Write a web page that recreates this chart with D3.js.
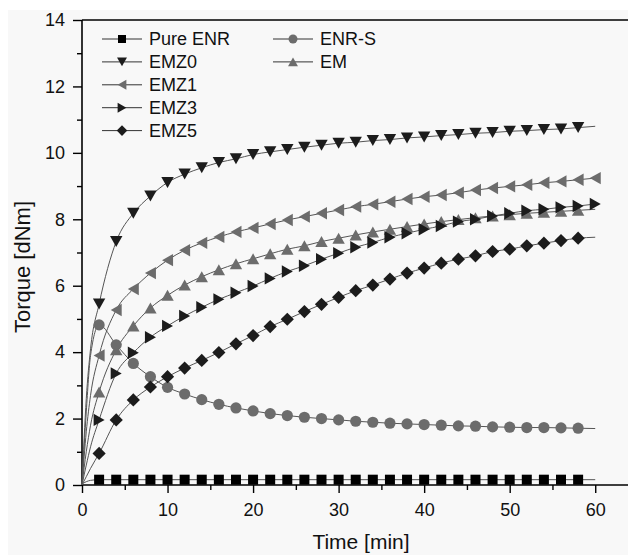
<!DOCTYPE html>
<html>
<head>
<meta charset="utf-8">
<script src="https://cdn.jsdelivr.net/npm/d3@7"></script>
<style>
  html, body { margin: 0; padding: 0; background: #fff; }
  svg { display: block; font-family: "Liberation Sans", Arial, sans-serif; }
</style>
</head>
<body>
<svg id="chart" width="628" height="555"></svg>
<script>
// --- Data (torque vs time, markers every 2 min) ---
const time = [2, 4, 6, 8, 10, 12, 14, 16, 18, 20, 22, 24, 26, 28, 30,
              32, 34, 36, 38, 40, 42, 44, 46, 48, 50, 52, 54, 56, 58, 60];

// start of the fitted curves (before the first marker)
const earlyTime = [0, 0.5, 1];

const pureENR = [0.16, 0.16, 0.16, 0.16, 0.16, 0.16, 0.16, 0.16, 0.16, 0.16, 0.16, 0.16, 0.16, 0.16, 0.16,
                 0.16, 0.16, 0.16, 0.16, 0.16, 0.16, 0.16, 0.16, 0.16, 0.16, 0.16, 0.16, 0.16, 0.16, 0.16];
const enrS = [4.82, 4.22, 3.66, 3.26, 2.94, 2.74, 2.57, 2.43, 2.32, 2.23, 2.15, 2.09, 2.04, 2.00, 1.96,
              1.92, 1.89, 1.86, 1.84, 1.82, 1.80, 1.78, 1.77, 1.75, 1.74, 1.73, 1.73, 1.72, 1.71, 1.70];
const emz0 = [5.45, 7.33, 8.18, 8.70, 9.11, 9.36, 9.55, 9.71, 9.82, 9.95, 10.03, 10.10, 10.17, 10.23, 10.29,
              10.32, 10.37, 10.40, 10.45, 10.48, 10.52, 10.55, 10.59, 10.61, 10.65, 10.67, 10.70, 10.72, 10.76, 10.80];
const em = [2.80, 4.07, 4.79, 5.33, 5.71, 6.02, 6.27, 6.48, 6.66, 6.81, 6.96, 7.10, 7.20, 7.33, 7.43,
            7.53, 7.62, 7.70, 7.78, 7.86, 7.93, 7.99, 8.05, 8.10, 8.14, 8.18, 8.21, 8.24, 8.27, 8.30];
const emz1 = [3.90, 5.27, 5.90, 6.38, 6.77, 7.07, 7.29, 7.47, 7.62, 7.74, 7.86, 7.98, 8.08, 8.18, 8.28,
              8.38, 8.45, 8.53, 8.61, 8.68, 8.73, 8.80, 8.88, 8.94, 8.99, 9.04, 9.10, 9.14, 9.19, 9.24];
const emz3 = [1.96, 3.36, 3.98, 4.45, 4.79, 5.09, 5.35, 5.59, 5.79, 5.99, 6.22, 6.43, 6.60, 6.80, 6.98,
              7.16, 7.30, 7.46, 7.58, 7.70, 7.80, 7.93, 8.00, 8.10, 8.18, 8.26, 8.30, 8.36, 8.40, 8.46];
const emz5 = [0.95, 1.96, 2.56, 2.95, 3.26, 3.52, 3.75, 3.99, 4.25, 4.50, 4.77, 4.99, 5.22, 5.44, 5.65,
              5.85, 6.02, 6.20, 6.38, 6.53, 6.68, 6.80, 6.90, 7.03, 7.10, 7.20, 7.28, 7.36, 7.43, 7.46];

const early = {
  "Pure ENR": [0.03, 0.10, 0.14],
  "ENR-S": [0.0, 2.2, 3.9],
  "EMZ0": [0.0, 2.6, 4.1],
  "EM": [0.0, 1.0, 1.8],
  "EMZ1": [0.0, 1.6, 2.7],
  "EMZ3": [0.0, 0.6, 1.15],
  "EMZ5": [0.0, 0.25, 0.5]
};

const xTicks = [0, 10, 20, 30, 40, 50, 60];
const yTicks = [0, 2, 4, 6, 8, 10, 12, 14];

const BLACK = "#1c1c1c", GREY = "#6c6c6c";

// name, values, marker, colour, last time with a marker
const series = [
  { name: "Pure ENR", values: pureENR, shape: "square", color: "#000", lastMark: 58 },
  { name: "ENR-S", values: enrS, shape: "circle", color: GREY, lastMark: 58 },
  { name: "EMZ0", values: emz0, shape: "down", color: BLACK, lastMark: 58 },
  { name: "EM", values: em, shape: "up", color: GREY, lastMark: 58 },
  { name: "EMZ1", values: emz1, shape: "left", color: GREY, lastMark: 60 },
  { name: "EMZ3", values: emz3, shape: "right", color: BLACK, lastMark: 60 },
  { name: "EMZ5", values: emz5, shape: "diamond", color: BLACK, lastMark: 58 }
];

// --- marker paths, centred on the bounding box ---
function markerPath(shape, k) {
  const s = k || 1;
  switch (shape) {
    case "square": { const h = 5 * s; return `M${-h},${-h}H${h}V${h}H${-h}Z`; }
    case "circle": { const r = 5.6 * s; return `M${r},0A${r},${r} 0 1,1 ${-r},0A${r},${r} 0 1,1 ${r},0Z`; }
    case "down": { const w = 6.2 * s, h = 5.5 * s; return `M${-w},${-h}H${w}L0,${h}Z`; }
    case "up": { const w = 6.2 * s, h = 5.5 * s; return `M${-w},${h}H${w}L0,${-h}Z`; }
    case "left": { const w = 5.5 * s, h = 6.2 * s; return `M${w},${-h}V${h}L${-w},0Z`; }
    case "right": { const w = 5.5 * s, h = 6.2 * s; return `M${-w},${-h}V${h}L${w},0Z`; }
    case "diamond": { const d = 6.6 * s; return `M0,${-d}L${d},0L0,${d}L${-d},0Z`; }
  }
}

// --- Setup SVG ---
const width = 628, height = 555;
const svg = d3.select("#chart");
svg.append("rect").attr("width", width).attr("height", height).attr("fill", "#fff");
svg.append("rect").attr("x", 8).attr("y", 10).attr("width", width - 8).attr("height", height - 10)
  .attr("fill", "#f8f8f8");

const x = d3.scaleLinear().domain([0, 65]).range([82, 638]);
const y = d3.scaleLinear().domain([0, 14]).range([485, 20]);

// --- Axes ---
const yMinor = svg.append("g").attr("transform", "translate(82,0)")
  .call(d3.axisLeft(y).tickValues(d3.range(1, 14, 2)).tickSize(5).tickFormat(""));
const yAxis = svg.append("g").attr("transform", "translate(82,0)")
  .call(d3.axisLeft(y).tickValues(yTicks).tickSize(9).tickPadding(8));
const xMinor = svg.append("g").attr("transform", "translate(0,485)")
  .call(d3.axisBottom(x).tickValues([5, 15, 25, 35, 45, 55]).tickSize(5).tickFormat(""));
const xAxis = svg.append("g").attr("transform", "translate(0,485)")
  .call(d3.axisBottom(x).tickValues(xTicks).tickSize(8).tickPadding(10));

[yMinor, xMinor].forEach(g => g.select(".domain").remove());
[yAxis, xAxis, yMinor, xMinor].forEach(g => {
  g.selectAll("line").attr("stroke", "#000").attr("stroke-width", 1.4);
  g.select(".domain").attr("stroke", "#000").attr("stroke-width", 1.6);
  g.selectAll("text").attr("font-size", 18).attr("fill", "#111")
    .attr("font-family", "'Liberation Sans', Arial, sans-serif");
});
yAxis.select(".domain").attr("d", "M0,485V20");
xAxis.select(".domain").attr("d", "M82,0H628");

// top frame line
svg.append("line").attr("x1", 82).attr("x2", 628).attr("y1", 20).attr("y2", 20)
  .attr("stroke", "#000").attr("stroke-width", 1.6);

// --- Fitted curves ---
const line = d3.line().x(d => x(d[0])).y(d => y(d[1])).curve(d3.curveMonotoneX);
const plot = svg.append("g");
series.forEach(s => {
  const pts = earlyTime.map((t, i) => [t, early[s.name][i]])
    .concat(time.map((t, i) => [t, s.values[i]]));
  plot.append("path").attr("d", line(pts))
    .attr("fill", "none").attr("stroke", "#555").attr("stroke-width", 1);
});

// --- Markers ---
series.forEach(s => {
  const pts = time.map((t, i) => [t, s.values[i]]).filter(d => d[0] <= s.lastMark);
  plot.append("g").selectAll("path").data(pts).join("path")
    .attr("transform", d => `translate(${x(d[0])},${y(d[1])})`)
    .attr("d", markerPath(s.shape))
    .attr("fill", s.color);
});

// --- Legend ---
const legendCols = [
  { x: 102, items: ["Pure ENR", "EMZ0", "EMZ1", "EMZ3", "EMZ5"] },
  { x: 273, items: ["ENR-S", "EM"] }
];
const legend = svg.append("g");
legendCols.forEach(col => {
  col.items.forEach((name, i) => {
    const s = series.find(d => d.name === name);
    const ly = 39 + i * 22.9;
    legend.append("line").attr("x1", col.x).attr("x2", col.x + 40).attr("y1", ly).attr("y2", ly)
      .attr("stroke", "#333").attr("stroke-width", 1);
    legend.append("path").attr("transform", `translate(${col.x + 20},${ly})`)
      .attr("d", markerPath(s.shape, 0.8)).attr("fill", s.color);
    legend.append("text").attr("x", col.x + 47).attr("y", ly).attr("dy", "0.36em")
      .attr("font-size", 18).attr("fill", "#111").text(name);
  });
});

// --- Axis titles ---
svg.append("text").attr("x", 361).attr("y", 549).attr("text-anchor", "middle")
  .attr("font-size", 21).attr("fill", "#111").text("Time [min]");
svg.append("text").attr("transform", "translate(30,267) rotate(-90)")
  .attr("text-anchor", "middle").attr("font-size", 22).attr("fill", "#111").text("Torque [dNm]");
</script>
</body>
</html>
